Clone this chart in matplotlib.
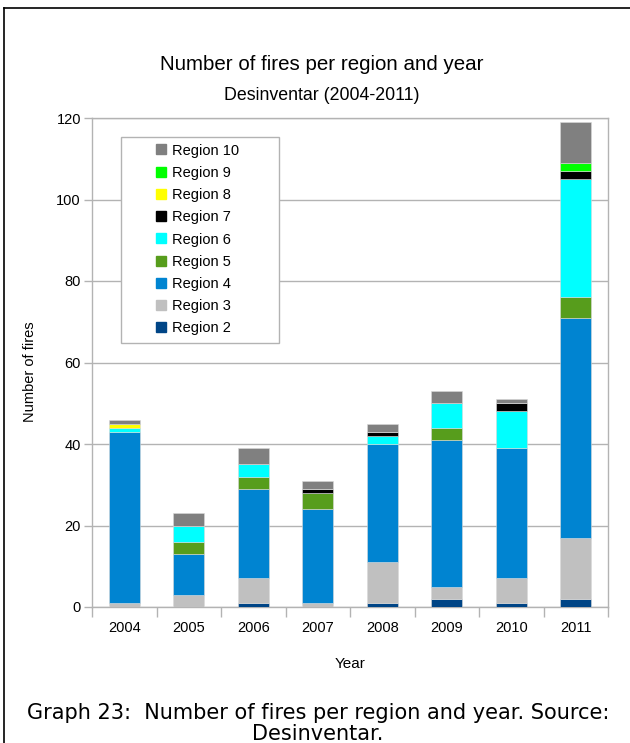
import matplotlib
matplotlib.use("Agg")
import matplotlib.pyplot as plt
from matplotlib.lines import Line2D
from matplotlib.patches import Rectangle
import numpy as np

years = ["2004", "2005", "2006", "2007", "2008", "2009", "2010", "2011"]
regions = ["Region 2", "Region 3", "Region 4", "Region 5", "Region 6",
           "Region 7", "Region 8", "Region 9", "Region 10"]
region2 = [0, 0, 1, 0, 1, 2, 1, 2]
region3 = [1, 3, 6, 1, 10, 3, 6, 15]
region4 = [42, 10, 22, 23, 29, 36, 32, 54]
region5 = [0, 3, 3, 4, 0, 3, 0, 5]
region6 = [1, 4, 3, 0, 2, 6, 9, 29]
region7 = [0, 0, 0, 1, 1, 0, 2, 2]
region8 = [1, 0, 0, 0, 0, 0, 0, 0]
region9 = [0, 0, 0, 0, 0, 0, 0, 2]
region10 = [1, 3, 4, 2, 2, 3, 1, 10]
series = [region2, region3, region4, region5, region6, region7, region8, region9, region10]
colors = ["#004586", "#c0c0c0", "#0084d1", "#579d1c", "#00ffff",
          "#000000", "#ffff00", "#00ff00", "#808080"]

plt.rcParams['font.family'] = ['Liberation Sans', 'DejaVu Sans']

W, H = 630, 743
fig = plt.figure(figsize=(W / 100, H / 100), dpi=100)
ax = fig.add_axes([92 / W, 1 - 607 / H, (608 - 92) / W, (607 - 118) / H])

x = np.arange(len(years))
bottom = np.zeros(len(years))
handles = []
for vals, col, name in zip(series, colors, regions):
    v = np.array(vals, dtype=float)
    ax.bar(x, v, bottom=bottom, width=0.48, color=col, edgecolor="#d9d9d9",
           linewidth=0.4, zorder=3)
    bottom += v
    handles.append(Line2D([], [], marker='s', linestyle='none', markersize=7.5,
                          markerfacecolor=col, markeredgecolor=col, label=name))

ax.set_xlim(-0.5, len(years) - 0.5)
ax.set_ylim(0, 120)
ax.set_yticks(np.arange(0, 121, 20))
ax.set_xticks(x)
ax.set_xticklabels(years, fontsize=10.5)
ax.set_xticks(np.arange(-0.5, len(years)), minor=True)
ax.tick_params(axis='x', which='major', length=0, pad=10)
ax.tick_params(axis='x', which='minor', length=7, color="#b3b3b3", width=1)
ax.tick_params(axis='y', length=6, color="#b3b3b3", width=1, labelsize=10.5, pad=2)
ax.yaxis.grid(True, color="#b3b3b3", linewidth=1, zorder=0)
ax.set_axisbelow(True)
for s in ax.spines.values():
    s.set_color("#b3b3b3")
    s.set_linewidth(1)

ax.set_ylabel("Number of fires", fontsize=10.5)
ax.yaxis.set_label_coords((37 - 92) / 516, (607 - 372) / 489)
ax.set_xlabel("Year", fontsize=11, labelpad=16)

# legend frame (drawn separately to match the wide padding)
frame = Rectangle(((121 - 92) / 516, (607 - 343) / 489), (279 - 121) / 516,
                  (343 - 137) / 489, transform=ax.transAxes, facecolor='white',
                  edgecolor="#b3b3b3", linewidth=1, zorder=4)
ax.add_patch(frame)
leg = ax.legend(handles=handles[::-1], loc='center left',
                bbox_to_anchor=((155 - 92) / 516, (607 - 239.5) / 489),
                borderaxespad=0, borderpad=0, fontsize=10.5, frameon=False,
                handlelength=0.8, handletextpad=0.4, labelspacing=0.565)
leg.set_zorder(5)

fig.text(322 / W, 1 - 64 / H, "Number of fires per region and year", ha='center',
         va='center', fontsize=14.8)
fig.text(322 / W, 1 - 95 / H, "Desinventar (2004-2011)", ha='center',
         va='center', fontsize=12.8)

fig.text(318 / W, 1 - 723.5 / H,
         "Graph 23:  Number of fires per region and year. Source:\nDesinventar.",
         ha='center', va='center', fontsize=15, family='DejaVu Sans',
         linespacing=1.06)

fig.add_artist(Line2D([4 / W, 4 / W], [0, 1 - 8 / H], color='black', lw=1.2,
                      transform=fig.transFigure))
fig.add_artist(Line2D([4 / W, 1], [1 - 8 / H, 1 - 8 / H], color='black', lw=1.2,
                      transform=fig.transFigure))

fig.savefig("out.png", dpi=100, facecolor='white')
